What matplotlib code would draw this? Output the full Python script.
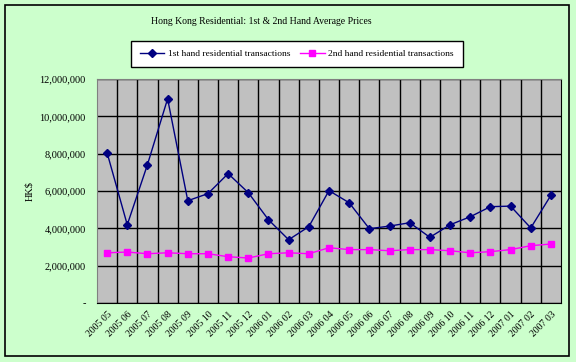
import matplotlib.pyplot as plt
from matplotlib.patches import Rectangle
from matplotlib.ticker import FuncFormatter, MultipleLocator

# ── Data ─────────────────────────────────────────────────────────────────────
months = ["2005 05", "2005 06", "2005 07", "2005 08", "2005 09", "2005 10",
          "2005 11", "2005 12", "2006 01", "2006 02", "2006 03", "2006 04",
          "2006 05", "2006 06", "2006 07", "2006 08", "2006 09", "2006 10",
          "2006 11", "2006 12", "2007 01", "2007 02", "2007 03"]
first_hand = [8050000, 4190000, 7410000, 10940000, 5480000, 5860000,
              6930000, 5910000, 4460000, 3390000, 4090000, 6020000,
              5370000, 3980000, 4120000, 4300000, 3520000, 4190000,
              4620000, 5160000, 5190000, 4020000, 5770000]
second_hand = [2690000, 2730000, 2640000, 2690000, 2640000, 2640000,
               2480000, 2410000, 2640000, 2690000, 2640000, 2960000,
               2860000, 2860000, 2800000, 2860000, 2860000, 2800000,
               2690000, 2750000, 2860000, 3070000, 3160000]

BG = "#CCFFCC"
SERIF = ["Liberation Serif", "DejaVu Serif"]
plt.rcParams["font.family"] = SERIF

fig = plt.figure(figsize=(5.76, 3.62), dpi=100, facecolor=BG)
fig.patches.append(Rectangle((5 / 576, 1 - 356 / 362), 564 / 576, 351 / 362,
                             transform=fig.transFigure, fill=False,
                             edgecolor="black", lw=1.2))

ax = fig.add_axes([97 / 576, 1 - 303 / 362, 464 / 576, 224 / 362])
ax.set_facecolor("#C0C0C0")

x = list(range(len(months)))
ax.plot(x, first_hand, color="#000080", lw=1, marker="D", ms=4,
        label="1st hand residential transactions", zorder=3)
ax.plot(x, second_hand, color="#FF00FF", lw=1, marker="s", ms=5,
        label="2nd hand residential transactions", zorder=3)

ax.set_xlim(-0.5, len(months) - 0.5)
ax.set_ylim(0, 12000000)
ax.yaxis.set_major_locator(MultipleLocator(2000000))
ax.yaxis.set_major_formatter(FuncFormatter(lambda v, p: "-" if v == 0 else f"{v:,.0f}"))

# category boundary grid lines
for b in range(1, len(months)):
    ax.axvline(b - 0.5, color="black", lw=1, zorder=1)
ax.grid(axis="y", color="black", lw=1, zorder=1)
ax.set_axisbelow(True)

ax.set_xticks(x)
ax.set_xticklabels(months, rotation=45, ha="right", rotation_mode="anchor",
                   fontsize=7)
ax.tick_params(axis="x", length=0, pad=5)
ax.tick_params(axis="y", length=0, pad=8, labelsize=7.5)
for s in ax.spines.values():
    s.set_color("#808080")
ax.spines["bottom"].set_color("black")
ax.spines["right"].set_color("black")

ax.set_ylabel("HK$", fontsize=7.5, labelpad=4)

fig.text(261 / 576, 1 - 22 / 362, "Hong Kong Residential: 1st & 2nd Hand Average Prices",
         ha="center", va="center", fontsize=7)

leg = fig.legend(loc="center", bbox_to_anchor=(297 / 576, 1 - 54 / 362),
                 ncol=2, fontsize=6.8, frameon=True, fancybox=False,
                 edgecolor="black", facecolor="white", framealpha=1,
                 handlelength=2.6, handletextpad=0.4, columnspacing=1.0,
                 borderpad=0.9, borderaxespad=0)
leg.get_frame().set_linewidth(1)

fig.savefig("out.png", dpi=100, facecolor=BG)
